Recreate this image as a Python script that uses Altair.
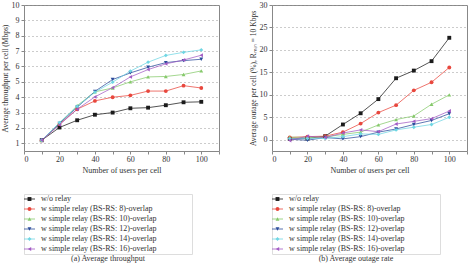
import altair as alt
import pandas as pd

users = [10, 20, 30, 40, 50, 60, 70, 80, 90, 100]
series = [
    "w/o relay",
    "w simple relay (BS-RS: 8)-overlap",
    "w simple relay (BS-RS: 10)-overlap",
    "w simple relay (BS-RS: 12)-overlap",
    "w simple relay (BS-RS: 14)-overlap",
    "w simple relay (BS-RS: 16)-overlap",
]
colors = ["#1b1b1b", "#e8473d", "#86c96b", "#2b4b9b", "#6fd6e3", "#a25cc4"]
shapes = ["square", "circle", "triangle-up", "triangle-down", "diamond", "triangle-left"]

# (a) Average throughput (Mbps)
thr_wo = [1.2, 2.03, 2.5, 2.86, 3.0, 3.28, 3.32, 3.48, 3.67, 3.7]
thr_8 = [1.2, 2.25, 3.22, 3.76, 4.0, 4.12, 4.4, 4.4, 4.75, 4.6]
thr_10 = [1.2, 2.3, 3.45, 4.35, 4.6, 5.0, 5.32, 5.35, 5.48, 5.71]
thr_12 = [1.2, 2.3, 3.35, 4.38, 5.15, 5.58, 5.95, 6.25, 6.38, 6.47]
thr_14 = [1.2, 2.35, 3.4, 4.33, 4.98, 5.7, 6.28, 6.72, 6.92, 7.08]
thr_16 = [1.2, 2.2, 3.22, 4.02, 4.62, 5.32, 5.8, 6.17, 6.42, 6.73]

# (b) Average outage rate (%)
out_wo = [0.2, 0.3, 0.8, 3.4, 5.9, 9.05, 13.7, 15.4, 17.5, 22.7]
out_8 = [0.5, 0.7, 0.8, 1.7, 3.6, 6.05, 7.7, 11.0, 12.8, 16.1]
out_10 = [0.6, 0.5, 0.6, 1.2, 1.7, 3.3, 4.5, 5.3, 7.9, 10.0]
out_12 = [0.1, -0.1, 0.5, 0.2, 0.7, 1.7, 2.4, 3.4, 4.3, 5.8]
out_14 = [0.2, 0.3, 0.3, 0.7, 1.3, 1.2, 2.2, 2.8, 3.4, 5.0]
out_16 = [-0.15, 0.8, 0.5, 1.5, 2.2, 1.8, 3.5, 4.1, 4.7, 6.4]

FONT = "Liberation Serif"
TXT = "#333333"


def long_df(cols):
    rows = []
    for name, vals in zip(series, cols):
        for u, v in zip(users, vals):
            rows.append({"series": name, "users": u, "value": v})
    return pd.DataFrame(rows)


def panel(df, ytitle, domain, ticks):
    base = alt.Chart(df).encode(
        x=alt.X(
            "users:Q",
            scale=alt.Scale(domain=[0, 110], nice=False),
            axis=alt.Axis(
                values=list(range(0, 111, 10)),
                labelExpr="datum.value % 20 == 0 && datum.value <= 100 ? datum.label : ''",
                title="Number of users per cell",
                grid=False,
                domain=False,
                tickSize=3,
                tickColor="#888",
                labelFont=FONT, labelFontSize=8, labelColor=TXT,
                titleFont=FONT, titleFontSize=8, titleFontWeight="normal",
                titleColor=TXT, titlePadding=3, labelPadding=1,
            ),
        ),
        y=alt.Y(
            "value:Q",
            scale=alt.Scale(domain=domain, nice=False, zero=False),
            axis=alt.Axis(
                values=ticks,
                title=ytitle,
                grid=True,
                gridDash=[1, 3],
                gridColor="#999",
                domain=False,
                tickSize=3,
                tickColor="#888",
                labelFont=FONT, labelFontSize=8, labelColor=TXT,
                titleFont=FONT, titleFontSize=7.5, titleFontWeight="normal",
                titleColor=TXT, titlePadding=2, labelPadding=2,
            ),
        ),
        color=alt.Color("series:N", scale=alt.Scale(domain=series, range=colors), legend=None),
    )
    lines = base.mark_line(strokeWidth=0.75)
    pts = base.mark_point(filled=True, size=15, opacity=1).encode(
        shape=alt.Shape("series:N", scale=alt.Scale(domain=series, range=shapes), legend=None)
    )
    return alt.layer(lines, pts).properties(
        width=195, height=146,
        view=alt.ViewBackground(stroke="#888", strokeWidth=1),
    )


def legend(caption):
    ldf = pd.DataFrame({"series": series})
    yenc = alt.Y("series:N", sort=series, axis=None,
                 scale=alt.Scale(type="point", domain=series, padding=0.5))
    cenc = alt.Color("series:N", scale=alt.Scale(domain=series, range=colors), legend=None)
    base = alt.Chart(ldf).encode(y=yenc, color=cenc)
    rule = base.mark_rule(strokeWidth=0.8).encode(x=alt.value(0), x2=alt.value(11))
    pt = base.mark_point(filled=True, size=15, opacity=1).encode(
        x=alt.value(5.5),
        shape=alt.Shape("series:N", scale=alt.Scale(domain=series, range=shapes), legend=None),
    )
    txt = base.mark_text(align="left", baseline="middle", font=FONT, fontSize=8, color=TXT).encode(
        x=alt.value(17), text="series:N", color=alt.value(TXT)
    )
    return alt.layer(rule, pt, txt).properties(
        width=168, height=60,
        title=alt.TitleParams(caption, orient="bottom", anchor="middle", font=FONT,
                              fontSize=8, fontWeight="normal", color=TXT, offset=1),
    )


chart_a = panel(long_df([thr_wo, thr_8, thr_10, thr_12, thr_14, thr_16]),
                "Average throughput per cell (Mbps)", [0.5, 10], list(range(1, 11)))
chart_b = panel(long_df([out_wo, out_8, out_10, out_12, out_14, out_16]),
                "Average outage per cell (%), Rₘᵢₙ = 10 Kbps", [-2.5, 30], list(range(0, 31, 5)))

left = alt.vconcat(chart_a, legend("(a)  Average throughput"), spacing=18)
right = alt.vconcat(chart_b, legend("(b)  Average outage rate"), spacing=18)

chart = alt.hconcat(left, right, spacing=28).properties(
    padding={"left": 0, "top": 0, "right": 0, "bottom": 0}
).configure_view(strokeWidth=0).configure(background="white")

chart.save("out.html", embed_options={"renderer": "svg", "actions": False})
